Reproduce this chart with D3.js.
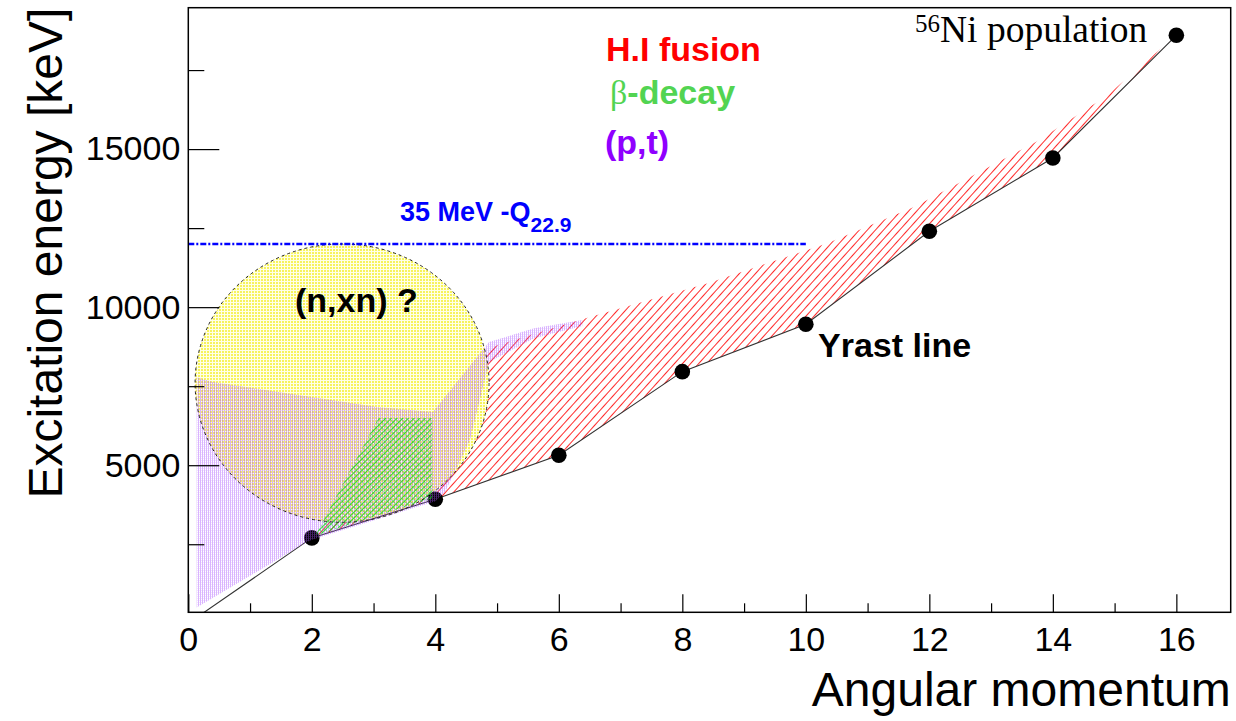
<!DOCTYPE html>
<html>
<head>
<meta charset="utf-8">
<script src="https://cdn.jsdelivr.net/npm/d3@7"></script>
<style>
  html, body { margin: 0; padding: 0; background: #fff; }
  svg { display: block; }
</style>
</head>
<body>
<svg id="chart" width="1236" height="721"></svg>
<script>
// ---------------- data ----------------
const xTicksMajor = [0, 2, 4, 6, 8, 10, 12, 14, 16];
const xTicksMinor = [1, 3, 5, 7, 9, 11, 13, 15];
const yTicksMajor = [5000, 10000, 15000];
const yTicksMinor = [2500, 7500, 12500, 17500];

// Yrast line of 56Ni (angular momentum, excitation energy in keV)
const yrastJ = [0, 2, 4, 6, 8, 10, 12, 14, 16];
const yrastE = [0, 2701, 3924, 5317, 7960, 9460, 12400, 14720, 18600];
const pointJ = [2, 4, 6, 8, 10, 12, 14, 16];
const pointE = [2701, 3924, 5317, 7960, 9460, 12400, 14720, 18600];

// H.I fusion region: upper boundary (from high J back to low J)
const hiUpperJ = [16, 14.87, 13.74, 11.76, 10.35, 8.4, 6.38, 4.85];
const hiUpperE = [18600, 16680, 15240, 13180, 12020, 10750, 9620, 8700];

// (p,t) region boundary
const ptJ = [0.136, 0.136, 0.40, 3.06, 3.96, 4.87, 5.6, 6.38, 6.38, 5.6, 4.87, 4.56, 4.16, 4.0, 2.0, 1.92];
const ptE = [495, 7779, 7630, 6840, 6681, 8897, 9330, 9592, 9402, 9020, 8264, 5790, 4160, 3860, 2640, 2570];

// beta-decay region boundary
const betaJ = [2.05, 2.5, 3.08, 3.95, 3.95, 3.0];
const betaE = [2760, 4400, 6490, 6490, 3950, 3370];

// (n,xn) ellipse: centre and semi-axes
const nxnCentreJ = 2.49, nxnCentreE = 7598, nxnRadiusJ = 2.38, nxnRadiusE = 4402;

// 35 MeV - Q line
const qLineJ = [0, 10];
const qLineE = 12000;

// ---------------- layout ----------------
const SANS = "'Liberation Sans', Arial, Helvetica, sans-serif";
const SERIF = "'Liberation Serif', 'Times New Roman', serif";
const svg = d3.select("#chart");
svg.append("rect").attr("width", 1236).attr("height", 721).attr("fill", "#fff");

const x = d3.scaleLinear().domain([0, 16.88]).range([188.3, 1230.7]);
const y = d3.scaleLinear().domain([347, 19473]).range([612.3, 7.7]);

const defs = svg.append("defs");
defs.append("clipPath").attr("id", "plotclip")
  .append("rect").attr("x", x(0)).attr("y", y(19473))
  .attr("width", x(16.88) - x(0)).attr("height", y(347) - y(19473));

// patterns
const redPat = defs.append("pattern").attr("id", "redHatch")
  .attr("patternUnits", "userSpaceOnUse").attr("width", 6).attr("height", 6)
  .attr("patternTransform", "rotate(42)");
redPat.append("line").attr("x1", 0.5).attr("y1", 0).attr("x2", 0.5).attr("y2", 6)
  .attr("stroke", "#ff2a2a").attr("stroke-width", 1.0);

const yelPat = defs.append("pattern").attr("id", "yelDots")
  .attr("patternUnits", "userSpaceOnUse").attr("width", 3).attr("height", 3);
yelPat.append("rect").attr("width", 3).attr("height", 3).attr("fill", "#ffffe6");
yelPat.append("rect").attr("width", 2).attr("height", 2).attr("fill", "#f7f35c");

const purPat = defs.append("pattern").attr("id", "purLines")
  .attr("patternUnits", "userSpaceOnUse").attr("width", 2).attr("height", 2);
purPat.append("rect").attr("width", 1).attr("height", 2).attr("fill", "#a64dff").attr("opacity", 0.42);
purPat.append("rect").attr("x", 1).attr("width", 1).attr("height", 1).attr("fill", "#c080ff").attr("opacity", 0.2);

const grnPat = defs.append("pattern").attr("id", "grnHatch")
  .attr("patternUnits", "userSpaceOnUse").attr("width", 4).attr("height", 4)
  .attr("patternTransform", "rotate(45)");
grnPat.append("line").attr("x1", 0.5).attr("y1", 0).attr("x2", 0.5).attr("y2", 4)
  .attr("stroke", "#00e000").attr("stroke-width", 0.9).attr("opacity", 0.85);
grnPat.append("line").attr("x1", 0).attr("y1", 0.5).attr("x2", 4).attr("y2", 0.5)
  .attr("stroke", "#22d822").attr("stroke-width", 0.7).attr("opacity", 0.65);

const plot = svg.append("g").attr("clip-path", "url(#plotclip)");
const lineGen = d3.line().x(d => x(d[0])).y(d => y(d[1]));

// H.I fusion hatched region
const hiPoly = [];
for (let i = 1; i < yrastJ.length; i++) hiPoly.push([yrastJ[i], yrastE[i]]);
for (let i = 0; i < hiUpperJ.length; i++) hiPoly.push([hiUpperJ[i], hiUpperE[i]]);
plot.append("path").attr("d", lineGen(hiPoly) + "Z").attr("fill", "url(#redHatch)");

// (n,xn) ellipse fill
const ell = {
  cx: x(nxnCentreJ), cy: y(nxnCentreE),
  rx: x(nxnCentreJ + nxnRadiusJ) - x(nxnCentreJ),
  ry: y(nxnCentreE) - y(nxnCentreE + nxnRadiusE)
};
plot.append("ellipse").attr("cx", ell.cx).attr("cy", ell.cy).attr("rx", ell.rx).attr("ry", ell.ry)
  .attr("fill", "url(#yelDots)");

// yrast line
plot.append("path").attr("d", lineGen(yrastJ.map((j, i) => [j, yrastE[i]])))
  .attr("fill", "none").attr("stroke", "#333").attr("stroke-width", 1.1);

// points
plot.selectAll("circle.pt").data(pointJ.map((j, i) => [j, pointE[i]])).enter()
  .append("circle").attr("class", "pt")
  .attr("cx", d => x(d[0])).attr("cy", d => y(d[1])).attr("r", 7.8).attr("fill", "#000");

// (p,t) region
plot.append("path").attr("d", lineGen(ptJ.map((j, i) => [j, ptE[i]])) + "Z")
  .attr("fill", "url(#purLines)");

// beta-decay region
plot.append("path").attr("d", lineGen(betaJ.map((j, i) => [j, betaE[i]])) + "Z")
  .attr("fill", "url(#grnHatch)");

// ellipse outline
plot.append("ellipse").attr("cx", ell.cx).attr("cy", ell.cy).attr("rx", ell.rx).attr("ry", ell.ry)
  .attr("fill", "none").attr("stroke", "#222").attr("stroke-width", 1)
  .attr("stroke-dasharray", "3,3");

// 35 MeV - Q line
plot.append("line").attr("x1", x(qLineJ[0])).attr("x2", x(qLineJ[1]))
  .attr("y1", y(qLineE)).attr("y2", y(qLineE))
  .attr("stroke", "#0000ff").attr("stroke-width", 2.5).attr("stroke-dasharray", "6,2,2,2");

// ---------------- axes ----------------
const gx = svg.append("g").attr("transform", `translate(0,${y(347)})`);
gx.call(d3.axisBottom(x).tickValues(xTicksMajor).tickSize(-18).tickPadding(15).tickFormat(d3.format("d")));
const gxm = svg.append("g").attr("transform", `translate(0,${y(347)})`);
gxm.call(d3.axisBottom(x).tickValues(xTicksMinor).tickSize(-9).tickFormat(""));
const gy = svg.append("g").attr("transform", `translate(${x(0)},0)`);
gy.call(d3.axisLeft(y).tickValues(yTicksMajor).tickSize(-31).tickPadding(8).tickFormat(d3.format("d")));
const gym = svg.append("g").attr("transform", `translate(${x(0)},0)`);
gym.call(d3.axisLeft(y).tickValues(yTicksMinor).tickSize(-16).tickFormat(""));
[gx, gxm, gy, gym].forEach(g => {
  g.attr("font-family", null).attr("font-size", null);
  g.select(".domain").remove();
  g.selectAll(".tick line").attr("stroke", "#000").attr("stroke-width", 1.2);
  g.selectAll(".tick text").style("font-size", "34px").style("font-family", SANS).attr("fill", "#000");
});

// frame
svg.append("rect").attr("x", x(0)).attr("y", y(19473))
  .attr("width", x(16.88) - x(0)).attr("height", y(347) - y(19473))
  .attr("fill", "none").attr("stroke", "#000").attr("stroke-width", 1.5);

// axis titles
svg.append("text").attr("transform", `translate(62,${y(19473)}) rotate(-90)`)
  .attr("text-anchor", "end").style("font-size", "48px").style("font-family", SANS).attr("fill", "#000")
  .text("Excitation energy [keV]");
svg.append("text").attr("x", x(16.88)).attr("y", 706)
  .attr("text-anchor", "end").style("font-size", "48px").style("font-family", SANS).attr("fill", "#000")
  .text("Angular momentum");

// ---------------- labels ----------------
function label(xp, yp, txt, color) {
  return svg.append("text").attr("x", xp).attr("y", yp)
    .style("font-size", "34px").style("font-weight", "bold").style("font-family", SANS)
    .attr("fill", color).text(txt);
}
label(606, 61, "H.I fusion", "#ff0000");
const bt = svg.append("text").attr("x", 610).attr("y", 104)
  .style("font-size", "34px").style("font-weight", "bold").style("font-family", SANS)
  .attr("fill", "#52d452");
bt.append("tspan").style("font-weight", "normal").style("font-family", SERIF).text("β");
bt.append("tspan").text("-decay");
label(605, 154, "(p,t)", "#8f00ff");
label(818, 357, "Yrast line", "#000");
label(295, 312, "(n,xn) ?", "#000");

const ni = svg.append("text").attr("x", 915).attr("y", 42)
  .style("font-family", SERIF).attr("fill", "#000");
ni.append("tspan").style("font-size", "25px").attr("dy", -10).text("56");
ni.append("tspan").style("font-size", "37.5px").attr("dy", 10).text("Ni population");

const qt = svg.append("text").attr("x", 400).attr("y", 221)
  .style("font-weight", "bold").style("font-family", SANS).attr("fill", "#0000ff");
qt.append("tspan").style("font-size", "27px").text("35 MeV -Q");
qt.append("tspan").style("font-size", "21px").attr("dy", 11).text("22.9");
</script>
</body>
</html>
